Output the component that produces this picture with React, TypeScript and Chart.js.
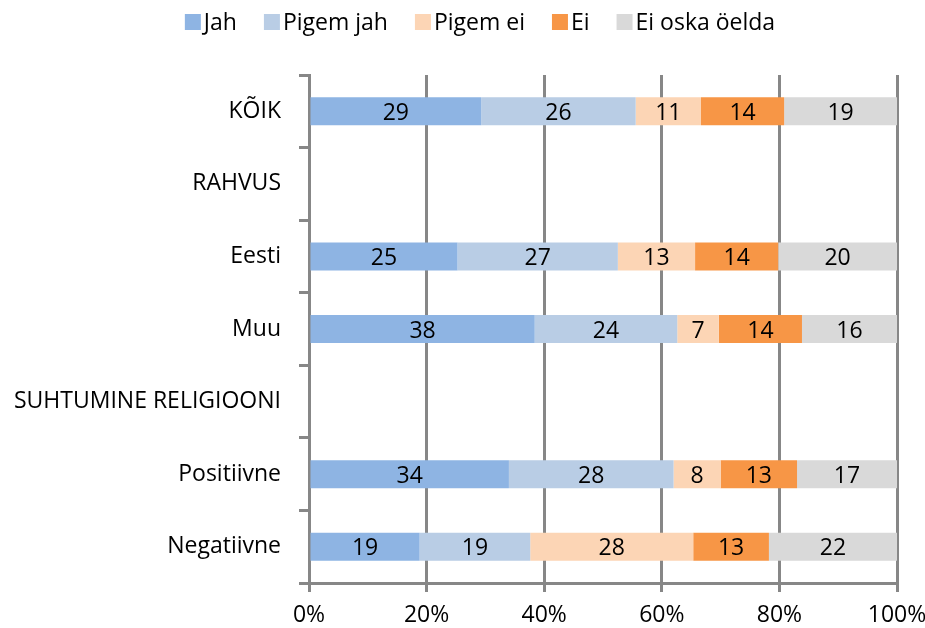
import React, { useEffect, useRef } from "react";
import { Chart, registerables } from "chart.js";
Chart.register(...registerables);

const categories = ["KÕIK", "RAHVUS", "Eesti", "Muu", "SUHTUMINE RELIGIOONI", "Positiivne", "Negatiivne"];
const seriesNames = ["Jah", "Pigem jah", "Pigem ei", "Ei", "Ei oska öelda"];
const jah = [29, null, 25, 38, null, 34, 19];
const pigemJah = [26, null, 27, 24, null, 28, 19];
const pigemEi = [11, null, 13, 7, null, 8, 28];
const ei = [14, null, 14, 14, null, 13, 13];
const eiOska = [19, null, 20, 16, null, 17, 22];
const seriesColors = ["#8EB4E3", "#B9CDE5", "#FCD5B5", "#F79646", "#D9D9D9"];
const xTickValues = [0, 20, 40, 60, 80, 100];

const FONT = "'Open Sans', sans-serif";
const FS = 23;
const GRID = "#878787";

const allSeries = [jah, pigemJah, pigemEi, ei, eiOska];

const totals = categories.map((_, i) =>
  allSeries.reduce((s, arr) => s + (arr[i] == null ? 0 : (arr[i] as number)), 0)
);

const labelPlugin = {
  id: "segLabels",
  afterDatasetsDraw(chart: any) {
    const ctx = chart.ctx;
    ctx.save();
    ctx.font = `${FS}px ${FONT}`;
    ctx.fillStyle = "#000";
    ctx.textAlign = "center";
    ctx.textBaseline = "middle";
    chart.data.datasets.forEach((ds: any, di: number) => {
      const meta = chart.getDatasetMeta(di);
      meta.data.forEach((el: any, i: number) => {
        const raw = ds.rawValues[i];
        if (raw == null) return;
        const cx = (el.x + el.base) / 2;
        ctx.fillText(String(raw), cx, el.y + 2);
      });
    });
    ctx.restore();
  },
};

const legendPlugin = {
  id: "customLegend",
  afterDraw(chart: any) {
    const ctx = chart.ctx;
    ctx.save();
    ctx.font = `${FS}px ${FONT}`;
    ctx.textBaseline = "middle";
    ctx.textAlign = "left";
    const box = 16;
    const gap = 3;
    const spacing = 27;
    const widths = seriesNames.map((n) => ctx.measureText(n).width);
    const total = widths.reduce((s, w) => s + box + gap + w, 0) + spacing * (seriesNames.length - 1);
    let x = 480 - total / 2;
    const cy = 22;
    seriesNames.forEach((n, i) => {
      ctx.fillStyle = seriesColors[i];
      ctx.fillRect(x, cy - box / 2, box, box);
      ctx.fillStyle = "#000";
      ctx.fillText(n, x + box + gap, cy + 1);
      x += box + gap + widths[i] + spacing;
    });
    ctx.restore();
  },
};

export default function App() {
  const ref = useRef<HTMLCanvasElement>(null);
  useEffect(() => {
    if (!ref.current) return;
    const datasets = allSeries.map((arr, si) => ({
      label: seriesNames[si],
      data: arr.map((v, i) => (v == null ? null : ((v as number) / totals[i]) * 100)),
      rawValues: arr,
      backgroundColor: seriesColors[si],
      borderWidth: 0,
      barPercentage: 0.386,
      categoryPercentage: 1,
    }));
    const chart = new Chart(ref.current, {
      type: "bar",
      data: { labels: categories, datasets: datasets as any },
      options: {
        indexAxis: "y",
        animation: false,
        responsive: false,
        layout: { padding: { top: 75, right: 28, left: 0, bottom: 0 } },
        plugins: { legend: { display: false }, tooltip: { enabled: false } },
        scales: {
          x: {
            stacked: true,
            min: 0,
            max: 100,
            afterBuildTicks(scale: any) {
              scale.ticks = xTickValues.map((v) => ({ value: v }));
            },
            ticks: {
              callback: (v: any) => `${v}%`,
              font: { family: FONT, size: FS },
              color: "#000",
              padding: 10,
              maxRotation: 0,
            },
            grid: { color: GRID, lineWidth: 3, tickLength: 9 },
            border: { color: GRID, width: 3 },
            afterFit(scale: any) {
              scale.height = 45;
              scale.paddingLeft = 0;
              scale.paddingRight = 0;
            },
          },
          y: {
            stacked: true,
            ticks: {
              font: { family: FONT, size: FS },
              color: "#000",
              padding: 18,
            },
            grid: { drawOnChartArea: false, offset: true, color: GRID, lineWidth: 3, tickLength: 10 },
            border: { color: GRID, width: 3 },
            afterFit(scale: any) {
              scale.width = 309;
              scale.paddingTop = 0;
              scale.paddingBottom = 0;
            },
          },
        },
      },
      plugins: [labelPlugin, legendPlugin],
    });
    return () => chart.destroy();
  }, []);
  return (
    <div style={{ position: "absolute", left: 0, top: 0, width: 925, height: 628, background: "#fff" }}>
      <canvas ref={ref} width={925} height={628} />
    </div>
  );
}
